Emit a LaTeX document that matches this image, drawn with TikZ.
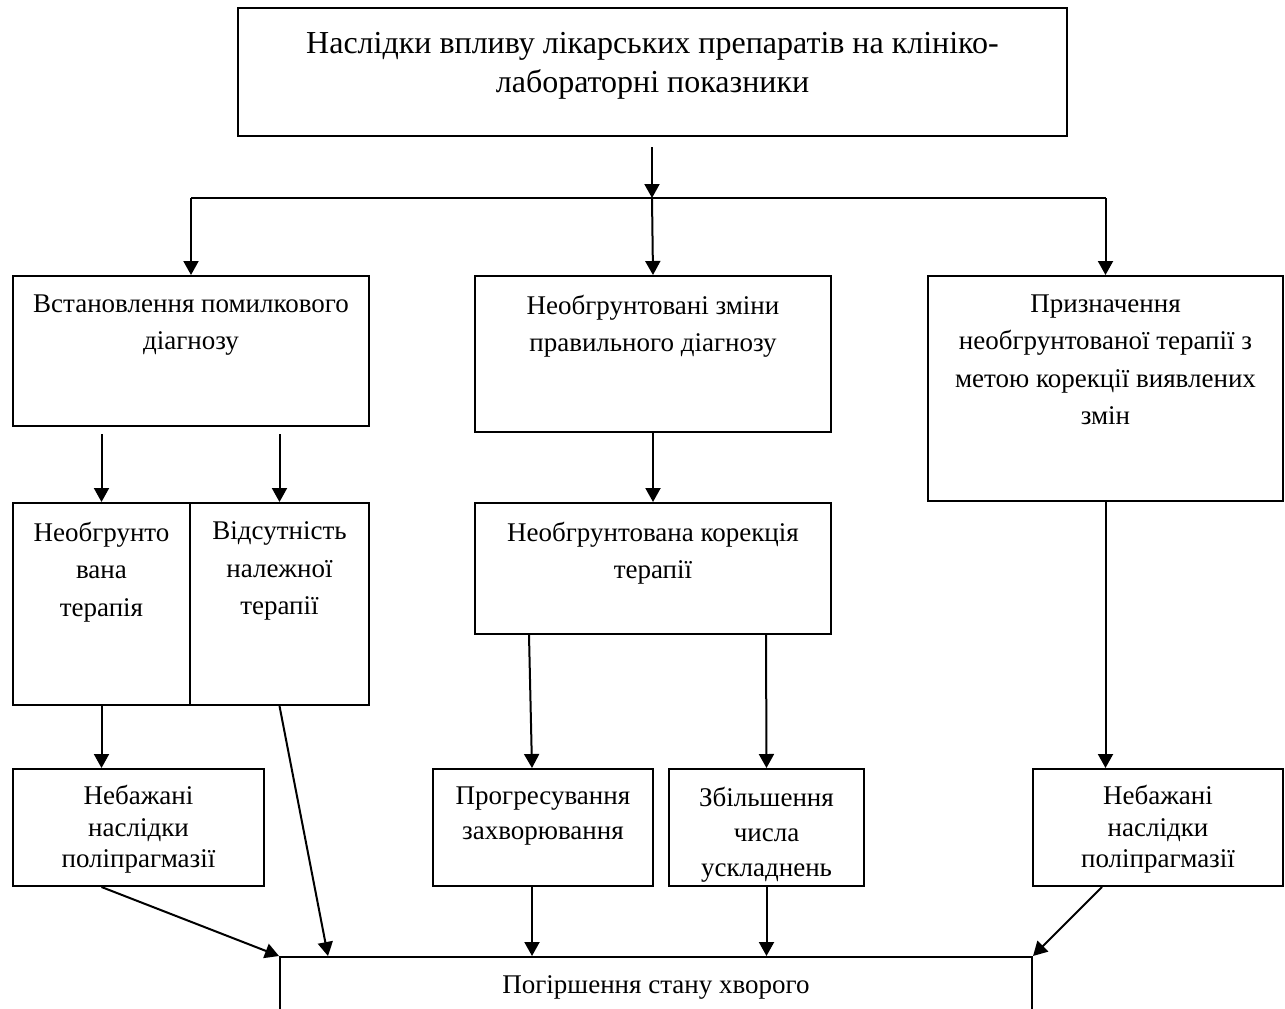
\documentclass[tikz,border=0pt]{standalone}
\usepackage{fontspec}
\setmainfont{Liberation Serif}
\usetikzlibrary{arrows.meta, positioning}

\tikzset{
    box/.style={draw, line width=2pt, anchor=north west, inner sep=0pt},
    lbl/.style={anchor=north, align=center, inner sep=0pt},
    txttop/.style={lbl, yshift=-25pt, font=\fontsize{32}{39}\selectfont},
    txt/.style={lbl, yshift=-19.5pt, font=\fontsize{27}{37.5}\selectfont},
    txtlow/.style={lbl, yshift=-17pt, font=\fontsize{27}{31.5}\selectfont},
    txtmid/.style={lbl, yshift=-19pt, font=\fontsize{27}{35}\selectfont},
    line/.style={line width=2pt},
    arr/.style={line width=2pt, -{Triangle[length=14pt,width=15pt]}},
}

\begin{document}
\begin{tikzpicture}[x=1pt, y=-1pt]
    \useasboundingbox (0,0) rectangle (1285,1009);

    % верхній блок
    \node[box, minimum width=829pt, minimum height=128pt,
        label={[txttop]north:{Наслідки впливу лікарських препаратів на клініко-\\лабораторні показники}}]
        (effects) at (237,7) {};

    % другий ряд
    \node[box, minimum width=356pt, minimum height=150pt,
        label={[txt]north:{Встановлення помилкового\\діагнозу}}] (wrongdiag) at (12,275) {};
    \node[box, minimum width=356pt, minimum height=156pt,
        label={[txt]north:{Необгрунтовані зміни\\правильного діагнозу}}] (changes) at (474,275) {};
    \node[box, minimum width=355pt, minimum height=225pt,
        label={[txt]north:{Призначення\\необгрунтованої терапії з\\метою корекції виявлених\\змін}}] (therapy) at (927,275) {};

    % третій ряд
    \node[box, minimum width=177pt, minimum height=202pt,
        label={[txt]north:{Необгрунто\\вана\\терапія}}] (unjust) at (12,502) {};
    \node[box, minimum width=179pt, minimum height=202pt,
        label={[txt]north:{Відсутність\\належної\\терапії}}] (absent) at (189,502) {};
    \node[box, minimum width=356pt, minimum height=131pt,
        label={[txt]north:{Необгрунтована корекція\\терапії}}] (correct) at (474,502) {};

    % четвертий ряд
    \node[box, minimum width=251pt, minimum height=117pt,
        label={[txtlow]north:{Небажані\\наслідки\\поліпрагмазії}}] (sideL) at (12,768) {};
    \node[box, minimum width=220pt, minimum height=117pt,
        label={[txtmid]north:{Прогресування\\захворювання}}] (progress) at (432,768) {};
    \node[box, minimum width=195pt, minimum height=117pt,
        label={[txtmid]north:{Збільшення\\числа\\ускладнень}}] (complic) at (668,768) {};
    \node[box, minimum width=250pt, minimum height=117pt,
        label={[txtlow]north:{Небажані\\наслідки\\поліпрагмазії}}] (sideR) at (1032,768) {};

    % нижній блок, обрізаний краєм
    \node[box, minimum width=752pt, minimum height=90pt,
        label={[txt]north:{Погіршення стану хворого}}] (worse) at (279,956) {};

    % розгалуження
    \coordinate (split) at (652,198);
    \draw[arr] ([yshift=-10pt]effects.south -| split) -- (split);
    \draw[line] (wrongdiag.north |- split) -- (therapy.north |- split);
    \draw[arr] (wrongdiag.north |- split) -- (wrongdiag.north);
    \draw[arr] (split) -- (changes.north);
    \draw[arr] (therapy.north |- split) -- (therapy.north);

    \draw[arr] ([yshift=-7pt]wrongdiag.south -| unjust.north) -- (unjust.north);
    \draw[arr] ([yshift=-7pt]wrongdiag.south -| absent.north) -- (absent.north);
    \draw[arr] (changes.south) -- (correct.north);

    \draw[arr] (unjust.south) -- (unjust.south |- sideL.north);
    \draw[arr] ([xshift=55pt]correct.south west) -- ([xshift=100pt]progress.north west);
    \draw[arr] ([xshift=292pt]correct.south west) -- (complic.north);
    \draw[arr] (therapy.south) -- (therapy.south |- sideR.north);

    % до нижнього блоку
    \draw[arr] (unjust.south |- sideL.south) -- (worse.north west);
    \draw[arr] (absent.south) -- ([xshift=49pt]worse.north west);
    \draw[arr] ([xshift=100pt]progress.south west) -- ([xshift=100pt]progress.south west |- worse.north);
    \draw[arr] (complic.south) -- (complic.south |- worse.north);
    \draw[arr] ([xshift=70pt]sideR.south west) -- (worse.north east);
\end{tikzpicture}
\end{document}
